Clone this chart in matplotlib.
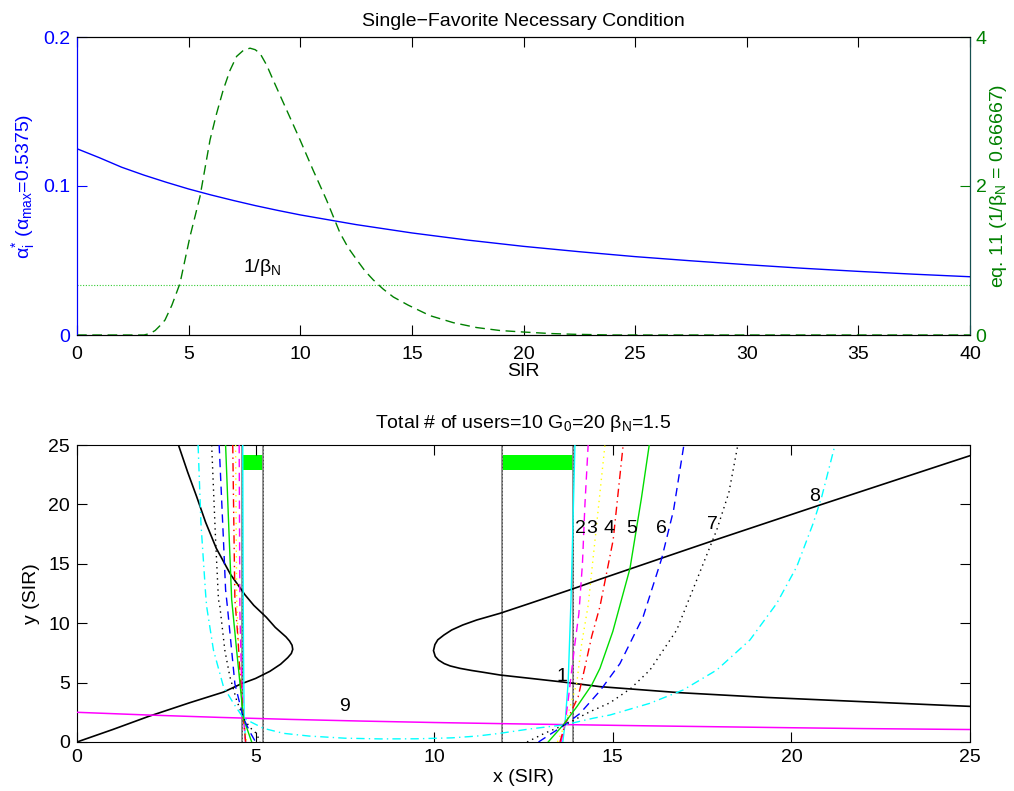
import matplotlib
matplotlib.use("Agg")
import matplotlib.pyplot as plt

plt.rcParams['font.family'] = ['Liberation Sans', 'DejaVu Sans']
plt.rcParams['mathtext.fontset'] = 'custom'
plt.rcParams['mathtext.rm'] = 'Liberation Sans'
plt.rcParams['mathtext.it'] = 'Liberation Sans:italic'
plt.rcParams['mathtext.bf'] = 'Liberation Sans:bold'

# ---------------- top panel data ----------------
sir_alpha = [0, 1, 2, 3, 4, 5, 6, 7, 8, 9, 10, 12.5, 15, 17.5, 20, 22.5, 25, 27.5, 30, 32.5, 35, 37.5, 40]
alpha_star = [0.125, 0.1190, 0.1126, 0.1073, 0.1025, 0.0980, 0.0940, 0.0903, 0.0868, 0.0836,
              0.0806, 0.0741, 0.0685, 0.0637, 0.0595,
              0.0559, 0.0526, 0.0498, 0.0472, 0.0448, 0.0427, 0.0408, 0.0391]
sir_eq = [0, 3.0, 3.27, 3.5, 3.7, 3.94, 4.25, 4.61, 5.06, 5.51, 5.96, 6.25, 6.55, 6.85, 7.15, 7.45,
          7.75, 7.98, 8.20, 8.5, 8.79, 9.39, 9.99, 10.58, 11.18, 11.78, 12.15, 12.53, 12.9, 13.27,
          13.7, 14.17, 14.84, 15.81, 16.86, 17.9, 18.95, 19.99, 21.19, 22.2, 24, 40]
eq11 = [0, 0, 0.02, 0.06, 0.12, 0.20, 0.40, 0.69, 1.32, 1.86, 2.62, 2.97, 3.29, 3.55, 3.74, 3.82,
        3.85, 3.83, 3.78, 3.62, 3.42, 3.02, 2.62, 2.21, 1.81, 1.37, 1.17, 1.01, 0.86, 0.74,
        0.62, 0.51, 0.40, 0.26, 0.165, 0.10, 0.06, 0.04, 0.02, 0.01, 0, 0]
inv_beta_left = 0.0333

# ---------------- bottom panel data ----------------
# left black curve
bk_left_x = [0, 1.0, 2.0, 3.16, 4.1, 4.6, 5.0, 5.4, 5.7, 5.9, 6.0, 6.04, 6.02, 5.95, 5.85, 5.7,
             5.55, 5.3, 4.95, 4.7, 4.3, 3.9, 3.6, 3.35, 3.1, 2.84]
bk_left_y = [0, 1.05, 2.15, 3.31, 4.2, 4.9, 5.35, 5.95, 6.55, 7.1, 7.45, 7.8, 8.15, 8.5, 8.85, 9.25,
             9.65, 10.5, 11.5, 12.4, 14.1, 16.3, 18.5, 20.65, 22.7, 25]
# right black curve
bk_right_x = [25, 24.44, 20.8, 17.81, 16.88, 14.64, 13.89, 12.68, 11.84, 11.19, 10.8, 10.49, 10.27,
              10.1, 10.02, 9.98, 10.03, 10.12, 10.28, 10.45, 10.72, 11.05, 11.37, 11.84, 12.68,
              13.6, 14.64, 16.88, 19.31, 24.44, 25]
bk_right_y = [24.1, 23.55, 19.95, 16.95, 16.0, 13.7, 12.9, 11.67, 10.83, 10.27, 9.85, 9.43, 9.0,
              8.6, 8.2, 7.69, 7.2, 6.9, 6.6, 6.4, 6.2, 6.02, 5.87, 5.64, 5.36,
              5.05, 4.66, 4.15, 3.75, 3.07, 3.0]
# line 9
m9_x = [0, 2, 4, 6, 8, 10, 12, 14, 16, 18, 20, 22, 25]
m9_y = [2.5, 2.27, 2.07, 1.9, 1.76, 1.64, 1.54, 1.45, 1.36, 1.28, 1.2, 1.13, 1.05]

# curves 1..7 : left and right branches
c1_lx = [4.64, 4.65, 4.66, 4.68, 4.70, 4.72]; c1_ly = [25, 15, 8, 2, 1, 0]
c1_rx = [13.6, 13.66, 13.75, 13.83, 13.94];   c1_ry = [0, 1.45, 5, 12, 25]
c2_lx = [4.54, 4.56, 4.6, 4.66, 4.72];       c2_ly = [25, 11, 6, 2, 0]
c2_rx = [13.55, 13.66, 13.75, 13.94, 14.05, 14.15, 14.22, 14.31]
c2_ry = [0, 1.45, 3.5, 8.3, 10.8, 15, 20, 25]
c3_lx = [4.44, 4.47, 4.55, 4.66, 4.75];       c3_ly = [25, 12, 6, 2, 0]
c3_rx = [13.45, 13.66, 13.99, 14.13, 14.31, 14.53, 14.78]
c3_ry = [0, 1.45, 4.94, 8.31, 11.5, 17.8, 25]
c4_lx = [4.36, 4.42, 4.5, 4.57, 4.66, 4.72];  c4_ly = [25, 12, 9, 5.5, 2, 0]
c4_rx = [13.52, 13.66, 14.03, 14.22, 14.41, 14.64, 15.01, 15.29]
c4_ry = [0, 1.45, 3.8, 6.3, 8.9, 11.4, 17, 25]
c5_lx = [4.16, 4.25, 4.33, 4.47, 4.61, 4.66, 4.89]; c5_ly = [25, 18, 12, 7.7, 3.5, 2, 0]
c5_rx = [13.19, 13.61, 14.0, 14.41, 14.64, 15.0, 15.48, 15.8, 16.02]
c5_ry = [0, 1.43, 3.0, 4.8, 6.2, 9.3, 14.6, 20.5, 25]
c6_lx = [3.98, 4.1, 4.16, 4.21, 4.33, 4.42, 4.66, 4.85, 5.0]
c6_ly = [25, 17, 12.8, 11.4, 7.7, 4.9, 2.0, 0.8, 0]
c6_rx = [12.92, 13.3, 13.66, 14.08, 14.64, 15.2, 15.85, 16.37, 16.7, 16.99]
c6_ry = [0, 0.75, 1.45, 2.4, 4.3, 6.6, 10.55, 15.46, 19.5, 25]
c7_lx = [3.77, 3.88, 3.96, 4.0, 4.14, 4.28, 4.47, 4.66, 4.85, 5.03, 5.12]
c7_ly = [25, 17, 12, 11.4, 7.7, 5.5, 3.5, 2.0, 1.2, 0.7, 0]
c7_rx = [12.6, 13.1, 13.66, 14.36, 14.92, 15.5, 16.04, 16.79, 17.35, 17.91, 18.25, 18.5]
c7_ry = [0, 0.75, 1.45, 2.55, 3.3, 4.5, 6.06, 9.43, 13.64, 17.85, 21.0, 25]
# curve 8 : full U
c8_x = [3.39, 3.47, 3.6, 3.63, 3.82, 4.1, 4.38, 4.66, 5.22, 5.78, 6.5, 7.5, 8.5, 9.5, 10.5, 11.2,
        11.84, 12.68, 13.24, 13.66, 14.45, 14.92, 16.04, 16.97, 17.91, 18.84, 19.59, 20.15,
        20.61, 20.85, 21.22]
c8_y = [25, 18.4, 12.5, 11.4, 7.74, 4.66, 3.26, 2.0, 1.15, 0.73, 0.5, 0.32, 0.26, 0.27, 0.35, 0.5,
        0.73, 1.1, 1.3, 1.45, 2.0, 2.27, 3.26, 4.38, 6.06, 8.59, 11.67, 14.76,
        18.41, 20.65, 25]

vlines_x = [4.61, 5.20, 11.89, 13.89]
bars_x = [(4.61, 5.20), (11.89, 13.89)]
bar_y = (22.9, 24.2)

labels_txt = ['1', '2', '3', '4', '5', '6', '7', '8', '9']
labels_x = [13.58, 14.1, 14.42, 14.89, 15.53, 16.37, 17.79, 20.65, 7.5]
labels_y = [5.55, 18.0, 18.0, 18.0, 18.0, 18.0, 18.27, 20.65, 3.0]

# ---------------- figure ----------------
fig = plt.figure(figsize=(10.14, 7.91), dpi=100)
TICK = 14
LAB = 14

def style_ticks(ax):
    ax.tick_params(direction='in', length=7, width=0.8, labelsize=TICK, pad=5)

# top panel
ax1 = fig.add_axes([77/1014, 1-335/791, 893/1014, 298/791])
ax1.plot(sir_alpha, alpha_star, color='blue', lw=1.0)
ax1.axhline(inv_beta_left, color='#33cc33', lw=0.8, ls=(0, (1, 1.5)))
ax1.text(7.44, 0.0383, '1/β$_\\mathrm{N}$', fontsize=LAB, ha='left', va='bottom')
ax1.set_xlim(0, 40)
ax1.set_ylim(0, 0.2)
ax1.set_xticks(range(0, 41, 5))
ax1.set_yticks([0, 0.1, 0.2])
ax1.set_yticklabels(['0', '0.1', '0.2'])
style_ticks(ax1)
ax1.tick_params(axis='x', top=True, pad=8)
ax1.tick_params(axis='y', colors='blue')
ax1.spines['left'].set_color('blue')
ax1.set_xlabel('SIR', fontsize=LAB, labelpad=0)
ax1.set_ylabel('α$_\\mathrm{i}^{*}$ (α$_\\mathrm{max}$=0.5375)', fontsize=LAB, color='blue', labelpad=4)
ax1.set_title('Single−Favorite Necessary Condition', fontsize=LAB, pad=8)

ax2 = ax1.twinx()
ax2.plot(sir_eq, eq11, color='#008000', lw=1.0, dashes=(7, 4))
ax2.set_ylim(0, 4)
ax2.set_yticks([0, 2, 4])
style_ticks(ax2)
ax2.tick_params(axis='y', colors='#008000', pad=4)
ax2.spines['right'].set_color('#155050')
ax2.spines['left'].set_color('blue')
ax2.set_ylabel('eq. 11 (1/β$_\\mathrm{N}$ = 0.66667)', fontsize=LAB, color='#008000', labelpad=1)

# bottom panel
ax = fig.add_axes([77/1014, 1-742/791, 893/1014, 297/791])
for (x0, x1) in bars_x:
    ax.fill_between([x0, x1], bar_y[0], bar_y[1], color='#00ff00', lw=0, zorder=1)
for xv in vlines_x:
    ax.axvline(xv, color='#8a8a8a', lw=1.3, zorder=2)
    ax.axvline(xv, color='#333333', lw=0.5, ls=(0, (2, 3)), zorder=2)

ax.plot(bk_left_x, bk_left_y, color='black', lw=1.2, zorder=3)
ax.plot(bk_right_x, bk_right_y, color='black', lw=1.2, zorder=3)
ax.plot(m9_x, m9_y, color='magenta', lw=1.1, zorder=3)

styles = [('cyan', '-'), ('magenta', (0, (6, 4))), ('yellow', (0, (1, 3))),
          ('red', (0, (6, 3, 1, 3))), ('#00dd00', '-'), ('blue', (0, (6, 4))),
          ('black', (0, (1, 3)))]
branches = [(c1_lx, c1_ly, c1_rx, c1_ry), (c2_lx, c2_ly, c2_rx, c2_ry),
            (c3_lx, c3_ly, c3_rx, c3_ry), (c4_lx, c4_ly, c4_rx, c4_ry),
            (c5_lx, c5_ly, c5_rx, c5_ry), (c6_lx, c6_ly, c6_rx, c6_ry),
            (c7_lx, c7_ly, c7_rx, c7_ry)]
for (col, ls), (lx, ly, rx, ry) in zip(styles, branches):
    ax.plot(lx, ly, color=col, ls=ls, lw=1.0, zorder=4)
    ax.plot(rx, ry, color=col, ls=ls, lw=1.0, zorder=4)
ax.plot(c8_x, c8_y, color='cyan', ls=(0, (6, 3, 1, 3)), lw=1.0, zorder=4)

for t, x, y in zip(labels_txt, labels_x, labels_y):
    ax.text(x, y, t, fontsize=LAB, ha='center', va='center', zorder=5)

ax.set_xlim(0, 25)
ax.set_ylim(0, 25)
ax.set_xticks(range(0, 26, 5))
ax.set_yticks(range(0, 26, 5))
style_ticks(ax)
ax.tick_params(top=True, right=True)
ax.set_xlabel('x (SIR)', fontsize=LAB, labelpad=2)
ax.set_ylabel('y (SIR)', fontsize=LAB, labelpad=6)
ax.set_title('Total # of users=10 G$_\\mathrm{0}$=20 β$_\\mathrm{N}$=1.5', fontsize=LAB, pad=12)

fig.savefig('out.png', dpi=100)
